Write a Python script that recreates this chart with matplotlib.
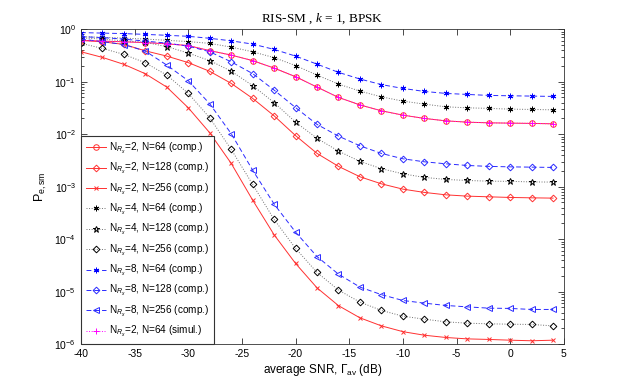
import numpy as np
import matplotlib
matplotlib.use("Agg")
import matplotlib.pyplot as plt

plt.rcParams["font.family"] = ["Liberation Sans", "DejaVu Sans"]
plt.rcParams["mathtext.fontset"] = "custom"
plt.rcParams["mathtext.rm"] = "Liberation Sans"
plt.rcParams["mathtext.it"] = "Liberation Sans:italic"
plt.rcParams["mathtext.cal"] = "Liberation Serif:italic"
plt.rcParams["axes.unicode_minus"] = False

# average SNR (dB), one marker every 2 dB
snr = np.arange(-40, 5, 2)

# error probability
p_n2_64 = [0.604, 0.590, 0.573, 0.553, 0.525, 0.485, 0.389, 0.320, 0.251, 0.181, 0.124, 0.0785,
           0.0500, 0.0360, 0.0278, 0.0230, 0.0199, 0.0179, 0.0169, 0.0164, 0.0162, 0.0160, 0.0157]
p_n2_128 = [0.617, 0.573, 0.511, 0.385, 0.306, 0.230, 0.157, 0.0925, 0.0479, 0.0223, 0.00936, 0.00429,
            0.00243, 0.00154, 0.00113, 8.96e-4, 7.76e-4, 6.98e-4, 6.59e-4, 6.40e-4, 6.22e-4, 6.12e-4, 6.04e-4]
p_n2_256 = [0.370, 0.289, 0.213, 0.141, 0.0785, 0.0317, 0.0106, 0.00277, 5.53e-4, 1.21e-4, 3.44e-5, 1.18e-5,
            5.41e-6, 3.17e-6, 2.23e-6, 1.73e-6, 1.48e-6, 1.34e-6, 1.26e-6, 1.23e-6, 1.19e-6, 1.16e-6, 1.19e-6]
p_n4_64 = [0.719, 0.695, 0.674, 0.645, 0.612, 0.578, 0.535, 0.454, 0.370, 0.286, 0.202, 0.133,
           0.0896, 0.0659, 0.0513, 0.0425, 0.0373, 0.0331, 0.0317, 0.0309, 0.0299, 0.0295, 0.0290]
p_n4_128 = [0.683, 0.645, 0.598, 0.558, 0.464, 0.349, 0.251, 0.158, 0.0839, 0.0398, 0.0169, 0.00832,
            0.00474, 0.00302, 0.00220, 0.00175, 0.00150, 0.00137, 0.00131, 0.00127, 0.00126, 0.00123, 0.00122]
p_n4_256 = [0.535, 0.429, 0.330, 0.228, 0.133, 0.0596, 0.0204, 0.00512, 0.00110, 2.37e-4, 6.65e-5, 2.32e-5,
            1.07e-5, 6.31e-6, 4.39e-6, 3.41e-6, 2.99e-6, 2.66e-6, 2.51e-6, 2.44e-6, 2.40e-6, 2.37e-6, 2.23e-6]
p_n8_64 = [0.858, 0.839, 0.821, 0.793, 0.762, 0.729, 0.668, 0.598, 0.518, 0.411, 0.306, 0.215,
           0.150, 0.112, 0.0877, 0.0742, 0.0650, 0.0596, 0.0570, 0.0546, 0.0537, 0.0530, 0.0522]
p_n8_128 = [0.719, 0.689, 0.645, 0.590, 0.541, 0.474, 0.370, 0.238, 0.142, 0.0689, 0.0320, 0.0153,
            0.00916, 0.00599, 0.00429, 0.00339, 0.00297, 0.00272, 0.00253, 0.00243, 0.00238, 0.00235, 0.00232]
p_n8_256 = [0.645, 0.578, 0.507, 0.381, 0.206, 0.104, 0.0378, 0.0102, 0.00206, 4.65e-4, 1.36e-4, 4.65e-5,
            2.15e-5, 1.22e-5, 8.77e-6, 6.79e-6, 6.04e-6, 5.46e-6, 5.13e-6, 4.85e-6, 4.79e-6, 4.58e-6, 4.58e-6]
p_sim_n2_64 = p_n2_64

labels = [
    r"N$_{R_x}$=2, N=64 (comp.)",
    r"N$_{R_x}$=2, N=128 (comp.)",
    r"N$_{R_x}$=2, N=256 (comp.)",
    r"N$_{R_x}$=4, N=64 (comp.)",
    r"N$_{R_x}$=4, N=128 (comp.)",
    r"N$_{R_x}$=4, N=256 (comp.)",
    r"N$_{R_x}$=8, N=64 (comp.)",
    r"N$_{R_x}$=8, N=128 (comp.)",
    r"N$_{R_x}$=8, N=256 (comp.)",
    r"N$_{R_x}$=2, N=64 (simul.)",
]
series = [p_n2_64, p_n2_128, p_n2_256, p_n4_64, p_n4_128, p_n4_256,
          p_n8_64, p_n8_128, p_n8_256, p_sim_n2_64]

red, gry, blu, mag = "#ff3030", "#707070", "#2a2aff", "#ff00ff"
asterisk = (6, 2, 0)
dash = (0, (5, 3))
styles = [
    dict(color=red, ls="-", marker="o", mfc="none"),
    dict(color=red, ls="-", marker="D", mfc="none", ms=3.4),
    dict(color=red, ls="-", marker="x", ms=3.2),
    dict(color=gry, ls=":", marker=asterisk, mec="k"),
    dict(color=gry, ls=":", marker="*", mfc="none", mec="k", ms=4.6),
    dict(color=gry, ls=":", marker="D", mfc="none", mec="k", ms=3.4),
    dict(color=blu, ls=dash, marker=asterisk, mec="#0000ff"),
    dict(color=blu, ls=dash, marker="D", mfc="none", ms=3.4),
    dict(color=blu, ls=dash, marker="<", mfc="none"),
    dict(color=mag, ls=":", marker="+", ms=3.8),
]

fig = plt.figure(figsize=(6.23, 3.88), dpi=100)
ax = fig.add_axes([0.130, 0.113, 0.775, 0.812])

for vals, lab, st in zip(series, labels, styles):
    st = dict(st)
    ms = st.pop("ms", 4.0)
    ax.plot(snr, vals, label=lab, lw=0.7, ms=ms, mew=0.7, **st)

ax.set_yscale("log")
ax.set_xlim(-40, 5)
ax.set_ylim(1e-6, 1)
ax.set_xticks(np.arange(-40, 6, 5))
ax.tick_params(which="both", direction="in", top=True, right=True, labelsize=7.5, width=0.5)
ax.tick_params(which="major", length=4)
ax.tick_params(which="minor", length=2)
for s in ax.spines.values():
    s.set_linewidth(0.6)
    s.set_color("#333333")

ax.set_title(r"RIS-SM , $\mathcal{k}$ = 1, BPSK", family="Liberation Serif", fontsize=9.5, pad=5)
ax.set_xlabel(r"average SNR, $\Gamma_{\rm av}$ (dB)", fontsize=8.5, labelpad=2)
ax.set_ylabel(r"P$_{\rm e,sm}$", fontsize=9, labelpad=4)

leg = ax.legend(loc="lower left", bbox_to_anchor=(0, 0), borderaxespad=0, fontsize=7.2,
                frameon=True, fancybox=False, framealpha=1, edgecolor="#333333",
                handlelength=2.0, handletextpad=0.3, labelspacing=0.53, borderpad=0.5)
leg.get_frame().set_linewidth(0.8)

fig.savefig("out.png", dpi=100)
